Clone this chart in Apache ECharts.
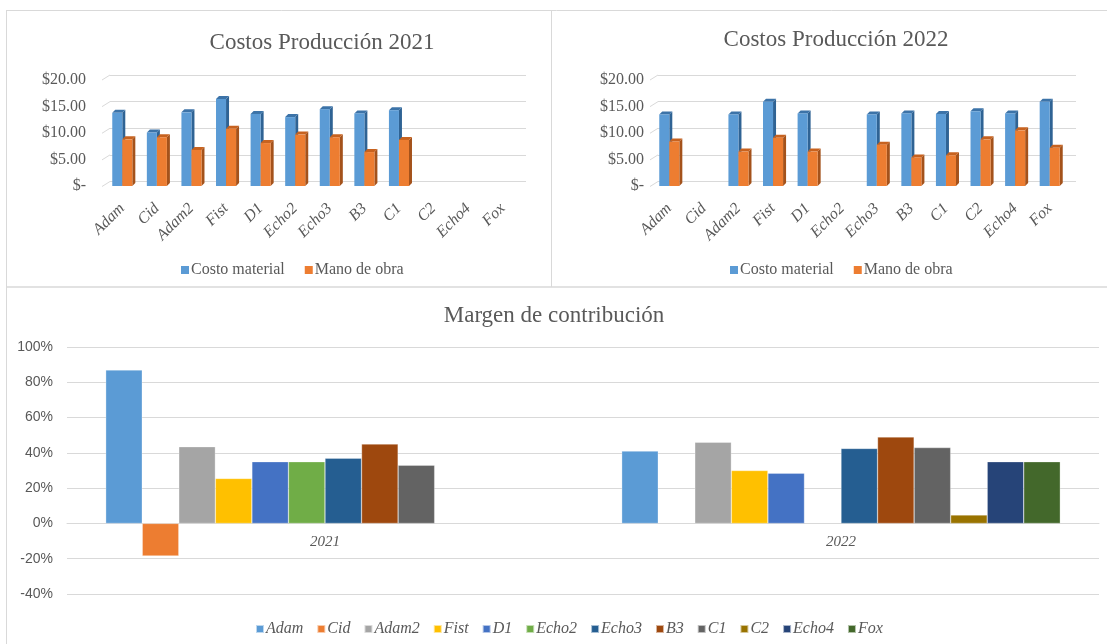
<!DOCTYPE html>
<html><head><meta charset="utf-8">
<script src="https://cdn.jsdelivr.net/npm/echarts@6/dist/echarts.min.js"></script>
<style>html,body{margin:0;padding:0;background:#fff}#c{width:1107px;height:644px}</style>
</head><body><div id="c"></div>
<script>
// ---- data ----
var categories = ['Adam','Cid','Adam2','Fist','D1','Echo2','Echo3','B3','C1','C2','Echo4','Fox'];
var costo2021 = [13.8, 10.1, 13.9, 16.4, 13.6, 13.0, 14.5, 13.7, 14.3, null, null, null];
var mano2021  = [8.8, 9.2, 6.8, 10.8, 8.1, 9.7, 9.2, 6.4, 8.7, null, null, null];
var costo2022 = [13.5, null, 13.5, 15.9, 13.7, null, 13.5, 13.7, 13.6, 14.1, 13.7, 15.9];
var mano2022  = [8.4, null, 6.5, 9.1, 6.5, null, 7.8, 5.4, 5.8, 8.8, 10.5, 7.2];
var years = ['2021', '2022'];
var mAdam  = [87, 41];
var mCid   = [-18.4, null];
var mAdam2 = [43.5, 46];
var mFist  = [25.5, 30];
var mD1    = [35, 28.5];
var mEcho2 = [35, null];
var mEcho3 = [37, 42.5];
var mB3    = [45, 49];
var mC1    = [33, 43];
var mC2    = [null, 4.8];
var mEcho4 = [null, 35];
var mFox   = [null, 35];
var costTicks = [0, 5, 10, 15, 20];
var marginMin = -40, marginMax = 100;

var marginSeries = [
  ['Adam', mAdam, '#5B9BD5'], ['Cid', mCid, '#ED7D31'], ['Adam2', mAdam2, '#A5A5A5'],
  ['Fist', mFist, '#FFC000'], ['D1', mD1, '#4472C4'], ['Echo2', mEcho2, '#70AD47'],
  ['Echo3', mEcho3, '#255E91'], ['B3', mB3, '#9E480E'], ['C1', mC1, '#636363'],
  ['C2', mC2, '#997300'], ['Echo4', mEcho4, '#264478'], ['Fox', mFox, '#43682B']
];

var SERIF = 'Liberation Serif';
var SANS = 'Liberation Sans';
var GRAY = '#595959';
var LINE = '#d9d9d9';

function bar3d(side, front, sideC, topC) {
  return function (params, api) {
    var v = api.value(1);
    if (v == null || isNaN(v)) return null;
    var base = api.coord([api.value(0), 0]);
    var tp = api.coord([api.value(0), v]);
    var band = api.size([1, 0])[0];
    var w = band * 0.29;
    var x0 = side < 0 ? base[0] - w : base[0];
    var d = 3;
    var yT = tp[1], yB = base[1];
    return {
      type: 'group',
      children: [
        {type: 'polygon', shape: {points: [[x0 + w, yT], [x0 + w + d, yT - d], [x0 + w + d, yB - d], [x0 + w, yB]]}, style: {fill: sideC}},
        {type: 'polygon', shape: {points: [[x0, yT], [x0 + d, yT - d], [x0 + w + d, yT - d], [x0 + w, yT]]}, style: {fill: topC}},
        {type: 'rect', shape: {x: x0, y: yT, width: w, height: yB - yT}, style: {fill: front}}
      ]
    };
  };
}
function diag(params, api) {
  var p = api.coord([0, api.value(0)]);
  return {type: 'line', shape: {x1: p[0] - 8, y1: p[1] + 5, x2: p[0], y2: p[1]}, style: {stroke: LINE, lineWidth: 1}};
}
function toPairs(arr) { return arr.map(function (v, i) { return [i, v]; }); }

var costFmt = function (v) { return v === 0 ? '$-' : '$' + v.toFixed(2); };

var bottomH = 247;
var grids = [
  {left: 105, width: 415, top: 80, height: 106},        // 0 left front
  {left: 110, width: 416, top: 75, height: 106.5},      // 1 left back
  {left: 652, width: 415, top: 80, height: 106},        // 2 right front
  {left: 658, width: 418, top: 75, height: 106.5},      // 3 right back
  {left: 67, right: 8, top: 347, height: bottomH}       // 4 bottom
];

function frontX(gi) {
  return {type: 'category', gridIndex: gi, data: categories, axisLine: {show: false}, axisTick: {show: false},
    axisLabel: {rotate: 45, fontFamily: SERIF, fontStyle: 'italic', fontSize: 16, color: GRAY, margin: 20, interval: 0}};
}
function backX(gi) {
  return {type: 'value', gridIndex: gi, min: 0, max: 1, show: false};
}
function frontY(gi, margin) {
  return {type: 'value', gridIndex: gi, min: 0, max: 20, interval: 5, splitLine: {show: false},
    axisLine: {show: false}, axisTick: {show: false},
    axisLabel: {formatter: costFmt, fontFamily: SERIF, fontSize: 16, color: GRAY, margin: margin}};
}
function backY(gi) {
  return {type: 'value', gridIndex: gi, min: 0, max: 20, interval: 5, axisLabel: {show: false},
    axisLine: {show: false}, axisTick: {show: false},
    splitLine: {lineStyle: {color: LINE, width: 1}}};
}

var series = [
  {type: 'custom', name: 'Costo material', xAxisIndex: 0, yAxisIndex: 0, data: toPairs(costo2021), itemStyle: {color: '#5B9BD5'}, renderItem: bar3d(-1, '#5B9BD5', '#2F6394', '#3C73A8'), z: 3},
  {type: 'custom', name: 'Mano de obra', xAxisIndex: 0, yAxisIndex: 0, data: toPairs(mano2021), itemStyle: {color: '#ED7D31'}, renderItem: bar3d(1, '#ED7D31', '#A4521B', '#C7621F'), z: 4},
  {type: 'custom', name: 'Costo material', xAxisIndex: 2, yAxisIndex: 2, data: toPairs(costo2022), itemStyle: {color: '#5B9BD5'}, renderItem: bar3d(-1, '#5B9BD5', '#2F6394', '#3C73A8'), z: 3},
  {type: 'custom', name: 'Mano de obra', xAxisIndex: 2, yAxisIndex: 2, data: toPairs(mano2022), itemStyle: {color: '#ED7D31'}, renderItem: bar3d(1, '#ED7D31', '#A4521B', '#C7621F'), z: 4},
  {type: 'custom', name: 'grid-l', xAxisIndex: 1, yAxisIndex: 1, data: costTicks.map(function (t) { return [t]; }), encode: {y: 0}, renderItem: diag, silent: true, z: 1},
  {type: 'custom', name: 'grid-r', xAxisIndex: 3, yAxisIndex: 3, data: costTicks.map(function (t) { return [t]; }), encode: {y: 0}, renderItem: diag, silent: true, z: 1}
];
marginSeries.forEach(function (s) {
  series.push({type: 'bar', name: s[0], xAxisIndex: 4, yAxisIndex: 4, data: s[1], barGap: '0%', barCategoryGap: '15%',
    itemStyle: {color: s[2], borderColor: 'rgba(255,255,255,0.6)', borderWidth: 0.5}});
});

var zeroOffset = -bottomH * (0 - marginMin) / (marginMax - marginMin);

var chart = echarts.init(document.getElementById('c'), null, {renderer: 'canvas'});
chart.setOption({
  animation: false,
  backgroundColor: '#fff',
  title: [
    {text: 'Costos Producción 2021', left: 317, top: 26, textAlign: 'center', textStyle: {fontFamily: SERIF, fontSize: 23, fontWeight: 'normal', color: GRAY}},
    {text: 'Costos Producción 2022', left: 831, top: 23, textAlign: 'center', textStyle: {fontFamily: SERIF, fontSize: 23, fontWeight: 'normal', color: GRAY}},
    {text: 'Margen de contribución', left: 549, top: 299, textAlign: 'center', textStyle: {fontFamily: SERIF, fontSize: 23, fontWeight: 'normal', color: GRAY}}
  ],
  legend: [
    {data: ['Costo material', 'Mano de obra'], left: 176, top: 257, icon: 'rect', itemWidth: 8, itemHeight: 8, itemGap: 20,
      textStyle: {fontFamily: SERIF, fontSize: 16, color: GRAY, padding: [0, 0, 0, -3]}},
    {data: ['Costo material', 'Mano de obra'], left: 725, top: 257, icon: 'rect', itemWidth: 8, itemHeight: 8, itemGap: 20,
      textStyle: {fontFamily: SERIF, fontSize: 16, color: GRAY, padding: [0, 0, 0, -3]}},
    {data: marginSeries.map(function (s) { return s[0]; }), left: 250, top: 616, icon: 'rect', itemWidth: 8, itemHeight: 8, itemGap: 13,
      textStyle: {fontFamily: SERIF, fontStyle: 'italic', fontSize: 16, color: GRAY, padding: [0, 0, 0, -3]}}
  ],
  grid: grids,
  xAxis: [frontX(0), backX(1), frontX(2), backX(3),
    {type: 'category', gridIndex: 4, data: years, position: 'bottom', offset: zeroOffset, axisTick: {show: false},
      axisLine: {onZero: false, lineStyle: {color: LINE}},
      axisLabel: {fontFamily: SERIF, fontStyle: 'italic', fontSize: 15, color: GRAY, margin: 11}}],
  yAxis: [frontY(0, 19), backY(1), frontY(2, 8), backY(3),
    {type: 'value', gridIndex: 4, min: marginMin, max: marginMax, interval: 20,
      axisLine: {show: false}, axisTick: {show: false},
      axisLabel: {formatter: '{value}%', fontFamily: SANS, fontSize: 14, color: GRAY, margin: 14},
      splitLine: {lineStyle: {color: LINE}}}],
  series: series,
  graphic: [
    {type: 'line', shape: {x1: 6, y1: 10.5, x2: 1107, y2: 10.5}, style: {stroke: LINE, lineWidth: 1}},
    {type: 'line', shape: {x1: 6.5, y1: 10, x2: 6.5, y2: 644}, style: {stroke: LINE, lineWidth: 1}},
    {type: 'line', shape: {x1: 551.5, y1: 10, x2: 551.5, y2: 287}, style: {stroke: LINE, lineWidth: 1}},
    {type: 'line', shape: {x1: 6, y1: 287, x2: 1107, y2: 287}, style: {stroke: LINE, lineWidth: 1.5}}
  ]
});
</script></body></html>
